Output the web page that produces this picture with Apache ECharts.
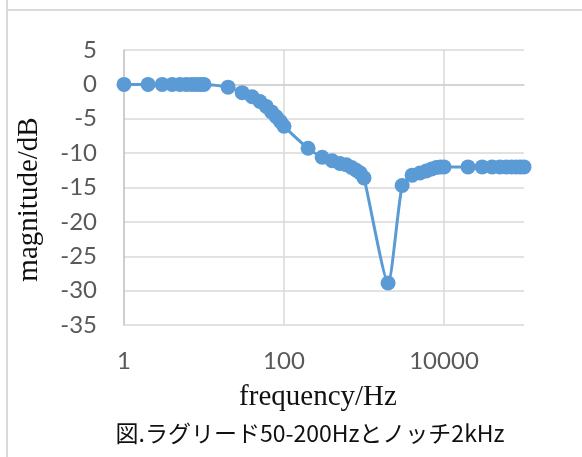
<!DOCTYPE html>
<html>
<head>
<meta charset="utf-8">
<script src="https://cdn.jsdelivr.net/npm/echarts@6/dist/echarts.min.js"></script>
<style>
html,body{margin:0;padding:0;background:#fff;}
#chart{width:582px;height:457px;}
</style>
</head>
<body>
<div id="chart"></div>
<script>
// Data
var frequencies = [1, 2, 3, 4, 5, 6, 7, 8, 9, 10,
  20, 30, 40, 50, 60, 70, 80, 90, 100,
  200, 300, 400, 500, 600, 700, 800, 900, 1000,
  2000, 3000, 4000, 5000, 6000, 7000, 8000, 9000, 10000,
  20000, 30000, 40000, 50000, 60000, 70000, 80000, 90000, 100000];
var magnitudes = [0, 0, 0, 0, 0, 0, 0, 0, 0, 0,
  -0.4, -1.2, -1.8, -2.5, -3.2, -4.0, -4.7, -5.4, -6.1,
  -9.3, -10.6, -11.1, -11.5, -11.7, -12.1, -12.5, -12.9, -13.6,
  -28.9, -14.7, -13.2, -12.9, -12.6, -12.3, -12.1, -12.0, -12.0,
  -12.0, -12.0, -12.0, -12.0, -12.0, -12.0, -12.0, -12.0, -12.0];
var xTickLabels = ['1', '100', '10000'];
var yMin = -35, yMax = 5, yStep = 5;
var xTitle = 'frequency/Hz';
var yTitle = 'magnitude/dB';
var caption = '図.ラグリード50-200Hzとノッチ2kHz';

var points = frequencies.map(function (f, i) { return [f, magnitudes[i]]; });

var chart = echarts.init(document.getElementById('chart'), null, {renderer: 'canvas'});
chart.setOption({
  animation: false,
  backgroundColor: '#ffffff',
  graphic: [
    {type: 'line', shape: {x1: 7, y1: 0, x2: 7, y2: 457}, style: {stroke: '#D9D9D9', lineWidth: 2}},
    {type: 'line', shape: {x1: 7, y1: 10, x2: 582, y2: 10}, style: {stroke: '#D9D9D9', lineWidth: 2}}
  ],
  title: {
    text: caption,
    left: 305,
    textAlign: 'center',
    top: 417,
    textStyle: {fontFamily: 'Noto Sans CJK JP', fontSize: 23, fontWeight: 'normal', color: '#111'}
  },
  grid: {left: 124, top: 50, width: 400, height: 275, containLabel: false},
  xAxis: {
    type: 'log',
    logBase: 100,
    min: 1,
    max: 100000,
    name: xTitle,
    nameLocation: 'middle',
    nameGap: 58,
    nameTextStyle: {fontFamily: 'Liberation Serif', fontSize: 29, color: '#111', padding: [0, 12, 0, 0]},
    axisLine: {show: true, lineStyle: {color: '#D0D0D0', width: 1.5}},
    axisTick: {show: false},
    axisLabel: {
      margin: 24,
      color: '#595959',
      fontFamily: 'Lato',
      fontSize: 24,
      showMaxLabel: false,
      formatter: function (v) {
        var s = String(Math.round(v));
        return xTickLabels.indexOf(s) >= 0 ? s : '';
      }
    },
    splitLine: {show: true, showMinLine: false, showMaxLine: false, lineStyle: {color: '#D9D9D9', width: 1.5}}
  },
  yAxis: {
    type: 'value',
    min: yMin,
    max: yMax,
    interval: yStep,
    name: yTitle,
    nameLocation: 'middle',
    nameGap: 80,
    nameTextStyle: {fontFamily: 'Liberation Serif', fontSize: 29, color: '#111', padding: [0, 24, 0, 0]},
    axisLine: {show: true, lineStyle: {color: '#BFBFBF', width: 1.5}},
    axisTick: {show: false},
    axisLabel: {margin: 27, color: '#595959', fontFamily: 'Lato', fontSize: 24},
    splitLine: {show: true, lineStyle: {color: '#D9D9D9', width: 1.5}}
  },
  series: [{
    type: 'line',
    data: points,
    smooth: 0.2,
    symbol: 'circle',
    symbolSize: 15,
    itemStyle: {color: '#5B9BD5'},
    lineStyle: {color: '#5B9BD5', width: 3}
  }]
});
</script>
</body>
</html>
